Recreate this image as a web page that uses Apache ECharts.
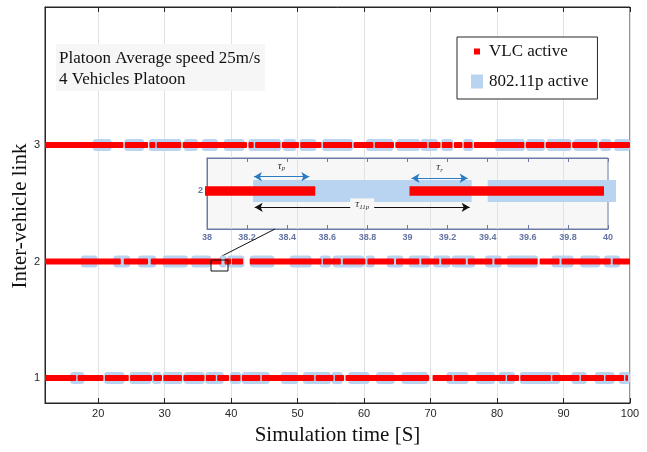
<!DOCTYPE html>
<html>
<head>
<meta charset="utf-8">
<script src="https://cdn.jsdelivr.net/npm/echarts@6/dist/echarts.min.js"></script>
<style>html,body{margin:0;padding:0;background:#fff;}#c{width:647px;height:452px;}</style>
</head>
<body>
<div id="c"></div>
<script>
// ---- data (seconds) ----
var xTicks = [20, 30, 40, 50, 60, 70, 80, 90, 100];
var linkTicks = [1, 2, 3];
var insetLink = 2;
var insetRange = [37.99, 40.04];

// VLC active intervals per link
var vlc3 = [[12,23.8],[24.0,27.5],[27.7,28.6],[28.8,32.5],[32.7,42.4],[42.6,43.4],[43.6,47.4],[47.6,50.2],[50.4,53.6],[53.8,58.2],[58.4,61.4],[61.6,64.5],[64.7,69.5],[69.7,71.5],[71.7,73.3],[73.5,74.8],[75.0,76.3],[76.5,84.1],[84.3,87.1],[87.3,91.1],[91.3,95.1],[95.3,100]];
var vlc2 = [[12,23.4],[23.85,27.5],[27.9,38.54],[39.01,39.98],[40.1,41.8],[42.8,53.6],[53.8,56.5],[56.8,60.2],[60.5,64.5],[64.8,68.3],[68.6,71.3],[71.6,75.3],[75.6,79.3],[79.6,86.1],[86.4,89.4],[89.7,97.1],[97.4,100]];
var vlc1 = [[12,16.7],[16.9,20.8],[21.0,24.6],[24.8,28.1],[28.3,29.6],[29.8,32.6],[32.8,36.0],[36.2,37.7],[37.9,39.7],[39.9,41.4],[41.6,44.4],[44.6,52.5],[52.7,55.4],[55.6,57.0],[57.2,69.8],[70.3,73.3],[73.5,81.3],[81.5,83.3],[83.5,88.1],[88.3,92.4],[92.6,96.1],[96.3,99.1],[99.3,99.7]];

// 802.11p active intervals per link
var p11_3 = [[19.2,22.0],[23.95,26.9],[27.6,32.5],[32.9,35.0],[35.6,38.0],[38.9,42.0],[42.6,47.5],[47.8,49.8],[50.3,52.8],[53.7,58.3],[60.3,64.4],[64.9,68.4],[68.5,71.1],[71.6,73.4],[74.9,76.4],[79.7,84.2],[84.4,87.2],[87.5,91.2],[91.5,95.2],[95.5,97.2],[97.6,100]];
var p11_2 = [[17.4,19.9],[22.3,24.8],[26.0,28.7],[29.7,33.5],[34.0,37.0],[38.23,39.32],[39.4,42.0],[42.8,46.5],[48.8,52.1],[53.3,55.0],[55.3,60.0],[60.2,61.6],[63.4,65.9],[66.7,69.9],[70.4,73.0],[73.2,76.7],[78.2,80.7],[81.5,86.2],[88.2,91.5],[92.5,95.5],[96.1,98.5]];
var p11_1 = [[15.8,17.9],[20.9,23.95],[24.7,28.0],[28.1,29.5],[29.7,32.7],[32.9,36.0],[36.1,38.9],[39.8,41.5],[41.6,45.8],[47.5,50.1],[50.8,55.0],[55.1,56.8],[57.6,60.8],[61.8,64.6],[65.6,69.6],[72.4,75.7],[76.8,79.7],[80.2,82.7],[83.4,89.5],[91.2,93.5],[94.7,97.7],[98.3,100]];

// inset annotations: [start, end, level]
var tauP = [38.234, 38.51, 2.113];
var tauR = [39.02, 39.30, 2.10];
var tau11p = [38.238, 39.31, 1.871];

// ---- build ----
function rows(list) {
  var out = [];
  list.forEach(function (r) { r[1].forEach(function (s) { out.push([s[0], s[1], r[0]]); }); });
  return out;
}
function clipRange(arr, lo, hi, link) {
  var out = [];
  arr.forEach(function (s) {
    var a = Math.max(s[0], lo), b = Math.min(s[1], hi);
    if (b > a) out.push([a, b, link]);
  });
  return out;
}
var RED = '#ff0000', BLUE = '#b9d4f1';
function bars(h, r, color) {
  return function (params, api) {
    var s = api.coord([api.value(0), api.value(2)]);
    var e = api.coord([api.value(1), api.value(2)]);
    return { type: 'rect', shape: { x: s[0], y: s[1] - h / 2, width: e[0] - s[0], height: h, r: r }, style: { fill: color } };
  };
}
var serif = 'Liberation Serif';
var insetCol = '#6b7aa6';

var chart = echarts.init(document.getElementById('c'), null, { renderer: 'canvas' });
function tauLabel(sub) {
  return {
    show: true, position: 'middle',
    formatter: '{t|τ}{s|' + sub + '}',
    rich: { t: { fontFamily: serif, fontStyle: 'italic', fontSize: 11, color: '#333' }, s: { fontFamily: serif, fontStyle: 'italic', fontSize: 7, color: '#333', padding: [5, 0, 0, 0] } }
  };
}
var option = {
  animation: false,
  backgroundColor: '#fff',
  grid: [
    { left: 45, right: 17, top: 7, bottom: 49, show: true, borderColor: '#262626', borderWidth: 1, backgroundColor: '#fff' },
    { left: 207, right: 39, top: 158, height: 71, show: true, borderColor: insetCol, borderWidth: 1, backgroundColor: 'rgba(0,0,0,0.03)' }
  ],
  xAxis: [
    { type: 'value', gridIndex: 0, position: 'bottom', min: 12, max: 100,
      axisLine: { lineStyle: { color: '#262626' } },
      axisTick: { inside: true, length: 5, customValues: xTicks, lineStyle: { color: '#262626' } },
      axisLabel: { customValues: xTicks, fontSize: 11, color: '#262626', margin: 5, fontFamily: 'Liberation Sans' },
      splitLine: { show: true, lineStyle: { color: '#e2e2e2' } },
      name: 'Simulation time [S]', nameLocation: 'middle', nameGap: 22,
      nameTextStyle: { fontFamily: serif, fontSize: 21, color: '#111' } },
    { type: 'value', gridIndex: 0, position: 'top', min: 12, max: 100,
      axisLine: { lineStyle: { color: '#262626' } },
      axisTick: { inside: true, length: 5, customValues: xTicks, lineStyle: { color: '#262626' } },
      axisLabel: { show: false }, splitLine: { show: false } },
    { type: 'value', gridIndex: 1, position: 'bottom', min: 38, max: 40, interval: 0.2,
      axisLine: { lineStyle: { color: insetCol } },
      axisTick: { inside: true, length: 4, lineStyle: { color: insetCol } },
      axisLabel: { fontSize: 9, fontWeight: 'bold', color: '#6574a3', margin: 4, fontFamily: 'Liberation Sans' },
      splitLine: { show: false } },
    { type: 'value', gridIndex: 1, position: 'top', min: 38, max: 40, interval: 0.2,
      axisLine: { lineStyle: { color: insetCol } },
      axisTick: { inside: true, length: 4, lineStyle: { color: insetCol } },
      axisLabel: { show: false }, splitLine: { show: false } }
  ],
  yAxis: [
    { type: 'value', gridIndex: 0, min: 0.785, max: 4.185,
      axisLine: { show: true, lineStyle: { color: '#262626' } },
      axisTick: { show: true, inside: true, length: 5, customValues: linkTicks, lineStyle: { color: '#262626' } },
      axisLabel: { customValues: linkTicks, fontSize: 11, color: '#262626', margin: 5, fontFamily: 'Liberation Sans' },
      splitLine: { show: false } },
    { type: 'value', gridIndex: 1, min: 1.7, max: 2.26,
      axisLine: { show: true, lineStyle: { color: insetCol } },
      axisTick: { show: false },
      axisLabel: { customValues: [insetLink], fontSize: 9, fontWeight: 'bold', color: '#6574a3', margin: 4, fontFamily: 'Liberation Sans' },
      splitLine: { show: false } }
  ],
  legend: {
    orient: 'vertical', left: 457, top: 37, selectedMode: false,
    padding: [6, 9, 9, 13], itemGap: 13, itemWidth: 14, itemHeight: 14,
    borderColor: '#262626', borderWidth: 1, backgroundColor: '#fff',
    textStyle: { fontFamily: serif, fontSize: 17, color: '#111' },
    data: [
      { name: 'VLC active', icon: 'path://M0,0M4,4L10,4L10,10L4,10ZM14,14' },
      { name: '802.11p active', icon: 'path://M0,0M1,0L13,0L13,14L1,14ZM14,14' }
    ]
  },
  graphic: [
    { type: 'rect', left: 56, top: 44, shape: { width: 209, height: 47 }, style: { fill: '#f6f6f6' }, z: 10 },
    { type: 'text', x: 59, y: 59, style: { text: 'Platoon Average speed 25m/s', font: '17px "Liberation Serif"', fill: '#111', textVerticalAlign: 'middle' }, z: 11 },
    { type: 'text', x: 59, y: 80, style: { text: '4 Vehicles Platoon', font: '17px "Liberation Serif"', fill: '#111', textVerticalAlign: 'middle' }, z: 11 },
    { type: 'text', x: 20, y: 216, rotation: Math.PI / 2, style: { text: 'Inter-vehicle link', font: '21px "Liberation Serif"', fill: '#111', textAlign: 'center', textVerticalAlign: 'middle' }, z: 11 },
    { type: 'rect', shape: { x: 211, y: 260, width: 17, height: 11 }, style: { fill: null, stroke: '#111', lineWidth: 1 }, z: 20 },
    { type: 'line', shape: { x1: 275, y1: 229, x2: 222, y2: 256 }, style: { stroke: '#111', lineWidth: 1 }, z: 1 }
  ],
  series: [
    { type: 'custom', name: '802.11p active', xAxisIndex: 0, yAxisIndex: 0, itemStyle: { color: BLUE }, z: 2,
      renderItem: bars(12, 3, BLUE), encode: { x: [0, 1], y: 2 },
      data: rows([[3, p11_3], [2, p11_2], [1, p11_1]]) },
    { type: 'custom', name: 'VLC active', xAxisIndex: 0, yAxisIndex: 0, itemStyle: { color: RED }, z: 3,
      renderItem: bars(6, 1, RED), encode: { x: [0, 1], y: 2 },
      data: rows([[3, vlc3], [2, vlc2], [1, vlc1]]) },
    { type: 'custom', name: '802.11p active', xAxisIndex: 2, yAxisIndex: 1, itemStyle: { color: BLUE }, z: 4, clip: false,
      renderItem: bars(22, 0, BLUE), encode: { x: [0, 1], y: 2 },
      data: clipRange(p11_2, insetRange[0], insetRange[1], insetLink) },
    { type: 'custom', name: 'VLC active', xAxisIndex: 2, yAxisIndex: 1, itemStyle: { color: RED }, z: 5, clip: false,
      renderItem: bars(9.5, 0, RED), encode: { x: [0, 1], y: 2 },
      data: clipRange(vlc2, insetRange[0], insetRange[1], insetLink),
      markLine: {
        silent: true, symbol: ['arrow', 'arrow'], symbolSize: [7, 8], animation: false,
        data: [
          [{ coord: [tauP[0], tauP[2]], lineStyle: { color: '#2a7bc4', width: 1.2, type: 'solid' }, label: tauLabel('p') }, { coord: [tauP[1], tauP[2]] }],
          [{ coord: [tauR[0], tauR[2]], lineStyle: { color: '#2a7bc4', width: 1.2, type: 'solid' }, label: tauLabel('r') }, { coord: [tauR[1], tauR[2]] }],
          [{ coord: [tau11p[0], tau11p[2]], lineStyle: { color: '#111', width: 1.2, type: 'solid' },
             label: (function () { var l = tauLabel('11p'); l.backgroundColor = '#f7f7f7'; l.padding = [0, 5]; l.offset = [0, 8]; return l; })() },
           { coord: [tau11p[1], tau11p[2]] }]
        ]
      } }
  ]
};
chart.setOption(option);
</script>
</body>
</html>
